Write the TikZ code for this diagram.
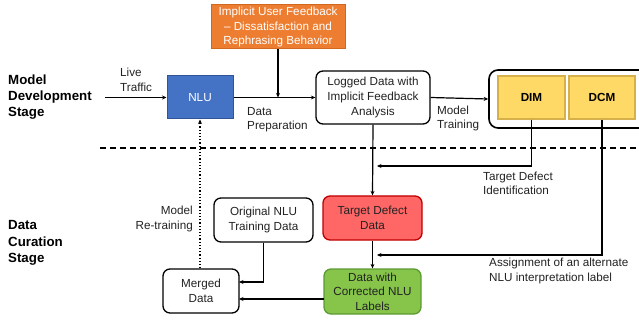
\documentclass[tikz,border=0pt]{standalone}
\usepackage{fontspec}
\setmainfont{Liberation Sans}
\usetikzlibrary{arrows.meta,calc}
\definecolor{orfill}{HTML}{ED7D31}
\definecolor{ordraw}{HTML}{D0691F}
\definecolor{blfill}{HTML}{4472C4}
\definecolor{bldraw}{HTML}{2F5597}
\definecolor{yefill}{HTML}{FFD966}
\definecolor{yedraw}{HTML}{D6B04A}
\definecolor{rdfill}{HTML}{FF6666}
\definecolor{rddraw}{HTML}{C00000}
\definecolor{grfill}{HTML}{86C44A}
\definecolor{grdraw}{HTML}{5E9A36}
\definecolor{txt}{HTML}{222222}
\begin{document}
\begin{tikzpicture}[x=1pt,y=-1pt,
  every node/.style={font=\fontsize{11.7}{14.6}\selectfont, text=txt, inner sep=0pt},
  box/.style={draw, line width=1.3pt, rounded corners=7pt, align=center, fill=white},
  sq/.style={draw, line width=1pt, align=center},
  lbl/.style={align=left, anchor=west},
  stage/.style={align=left, anchor=west, font=\fontsize{13.3}{16.2}\selectfont\bfseries, text=black},
  conn/.style={line width=1.2pt, -{Stealth[length=4.5pt,width=4pt]}},
  plain/.style={line width=1.2pt}
]
\useasboundingbox (0,0) rectangle (639,320);

% stage labels
\node[stage] (mds) at (8,97) {Model\\Development\\Stage};
\node[stage] (dcs) at (8,243) {Data\\Curation\\Stage};

% dashed separator
\coordinate (dl) at (100,148);
\coordinate (dr) at (639,148);
\draw[line width=1.5pt, dash pattern=on 6pt off 4pt] (dl) -- (dr);

% nodes
\node[sq, fill=orfill, draw=ordraw, text=white, minimum width=134, minimum height=44] (fb) at (278,27) {Implicit User Feedback\\– Dissatisfaction and\\Rephrasing Behavior};
\node[sq, fill=blfill, draw=bldraw, text=white, minimum width=66, minimum height=43] (nlu) at (200,97.5) {NLU};
\node[box, minimum width=114, minimum height=53] (log) at (373,97.5) {Logged Data with\\Implicit Feedback\\Analysis};
\node[draw, line width=1.6pt, rounded corners=9pt, minimum width=160, minimum height=58] (outer) at (569,99) {};
\node[sq, fill=yefill, draw=yedraw, line width=1.2pt, minimum width=67, minimum height=43, font=\fontsize{11.7}{14}\selectfont\bfseries, text=black] (dim) at (531.5,97.5) {DIM};
\node[sq, fill=yefill, draw=yedraw, line width=1.2pt, minimum width=66, minimum height=43, font=\fontsize{11.7}{14}\selectfont\bfseries, text=black] (dcm) at (602,97.5) {DCM};
\node[box, fill=rdfill, draw=rddraw, minimum width=99, minimum height=44] (tdd) at (372.5,218) {Target Defect\\Data};
\node[box, fill=grfill, draw=grdraw, minimum width=97, minimum height=45] (cor) at (372.5,291.5) {Data with\\Corrected NLU\\Labels};
\node[box, minimum width=99, minimum height=44] (orig) at (263.5,220) {Original NLU\\Training Data};
\node[box, minimum width=76, minimum height=44] (mer) at (201,291) {Merged\\Data};

% labels
\node[lbl] (lt) at (120,80) {Live\\Traffic};
\node[lbl] (dp) at (247,119.5) {Data\\Preparation};
\node[lbl] (mt) at (437,118.5) {Model\\Training};
\node[lbl] (tdi) at (483,183.5) {Target Defect\\Identification};
\node[lbl] (asg) at (489,271) {Assignment of an alternate\\NLU interpretation label};
\node[align=right, anchor=east] (mrt) at (193,219) {Model\\Re-training};

% connectors
\coordinate (live) at (105,97.5);
\draw[conn] (live) -- (nlu.west);
\draw[conn] (nlu.east) -- (log.west);
\coordinate (fbj) at (278,97.5);
\draw[conn] (fb.south) -- (fbj);
\draw[conn] (log.east) -- (outer.west);
\draw[conn] (log.south) -- (tdd.north);
\coordinate (a1) at (377,166);
\draw[conn] (dim.south) |- (a1);
\coordinate (a2) at (377,255);
\draw[conn] (dcm.south) |- (a2);
\draw[conn] (tdd.south) -- (cor.north);
\coordinate (m1) at (239,282);
\draw[conn] (orig.south) |- (m1);
\coordinate (c1) at (324,299);
\coordinate (m2) at (239,299);
\draw[conn] (c1) -- (m2);
\draw[line width=1.2pt, dotted, -{Stealth[length=4.5pt,width=4pt]}] (mer.north -| nlu.south) -- (nlu.south);
\end{tikzpicture}
\end{document}
